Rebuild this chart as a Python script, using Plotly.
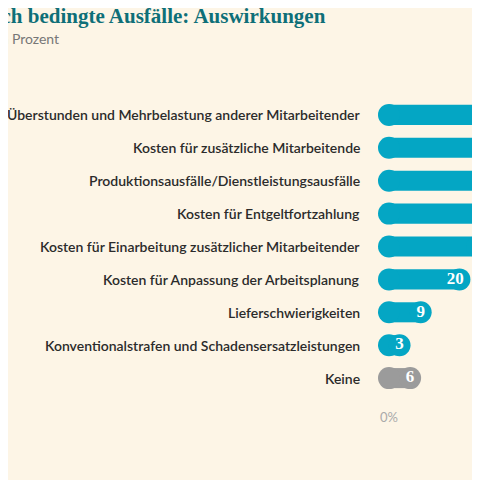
import plotly.graph_objects as go

categories = ["Überstunden und Mehrbelastung anderer Mitarbeitender",
              "Kosten für zusätzliche Mitarbeitende",
              "Produktionsausfälle/Dienstleistungsausfälle",
              "Kosten für Entgeltfortzahlung",
              "Kosten für Einarbeitung zusätzlicher Mitarbeitender",
              "Kosten für Anpassung der Arbeitsplanung",
              "Lieferschwierigkeiten",
              "Konventionalstrafen und Schadensersatzleistungen",
              "Keine"]
values = [48, 40, 34, 30, 25, 20, 9, 3, 6]
colors = ["#04a6c4"] * 8 + ["#9b9b9b"]
tick_vals = [0, 25]
tick_text = ["0%", "25"]

bg = "#fdf5e6"

fig = go.Figure()
fig.add_bar(y=categories, x=values, orientation="h", marker_color=colors,
            width=0.61, marker_line_width=0, hoverinfo="skip")
for xs in ([0] * len(values), values):
    fig.add_scatter(y=categories, x=xs, mode="markers", cliponaxis=False,
                    marker=dict(size=22, color=colors, line_width=0),
                    hoverinfo="skip", showlegend=False)
fig.add_scatter(y=categories, x=[v + 1.2 for v in values], mode="text",
                text=["<b>%d</b>" % v for v in values], textposition="middle left",
                cliponaxis=False,
                textfont=dict(family="Liberation Serif", size=17, color="white"),
                hoverinfo="skip", showlegend=False)

for c in categories:
    fig.add_annotation(x=-0.297, xref="paper", y=c, yref="y", text=c,
                       xanchor="right", showarrow=False,
                       font=dict(family="Lato", size=14, color="#2b2b2b", weight=600))

fig.add_annotation(x=-0.67, xref="paper", y=1.215, yref="paper",
                   text="<b>Psychisch bedingte Ausfälle: Auswirkungen</b>",
                   xanchor="right", yanchor="middle", showarrow=False,
                   font=dict(family="Liberation Serif", size=21, color="#0e6f78"))
fig.add_annotation(x=-3.6, xref="paper", y=1.143, yref="paper",
                   text="Angaben in Prozent", xanchor="right", yanchor="middle",
                   showarrow=False, font=dict(family="Lato", size=14, color="#777777"))

fig.update_layout(
    width=472, height=472, paper_bgcolor=bg, plot_bgcolor=bg,
    margin=dict(l=381, r=0, t=77, b=72), showlegend=False, barmode="overlay",
    xaxis=dict(range=[0, 25.85], tickvals=tick_vals, ticktext=tick_text,
               showgrid=True, gridcolor="#b5b0a6", gridwidth=1, zeroline=False,
               tickfont=dict(family="Lato", size=13, color="#aaaaaa")),
    yaxis=dict(autorange="reversed", showticklabels=False, showgrid=False),
)

fig.write_html("out.html")
